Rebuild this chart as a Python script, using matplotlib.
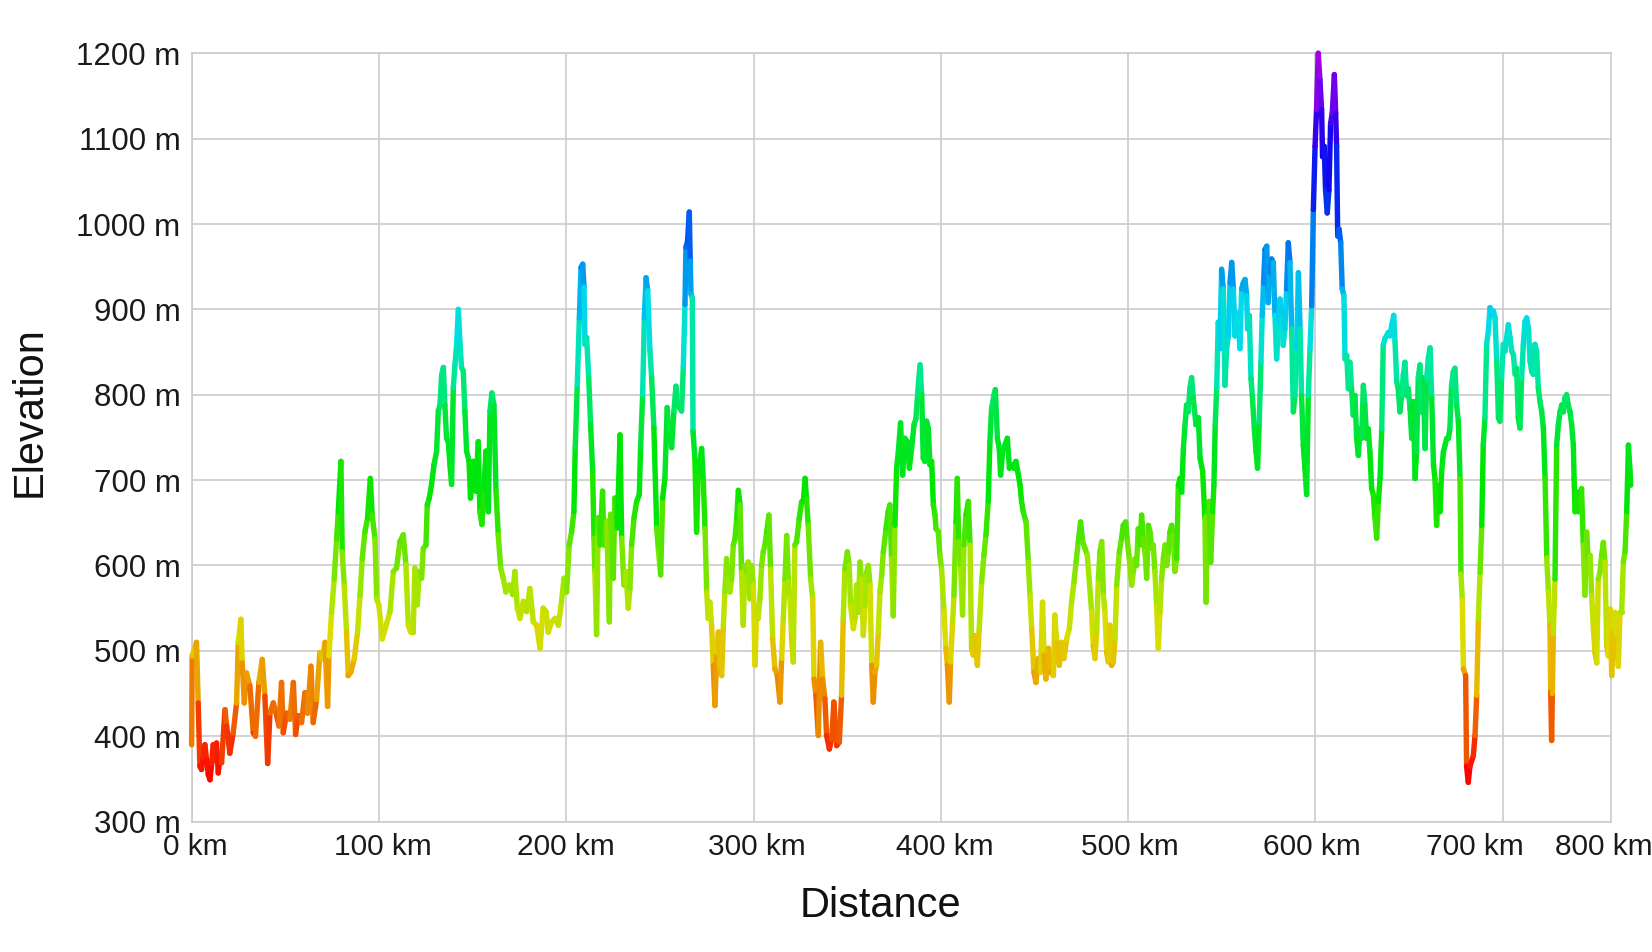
import matplotlib
matplotlib.use("Agg")
import numpy as np
import matplotlib.pyplot as plt
from matplotlib.collections import LineCollection
from matplotlib.colors import LinearSegmentedColormap, Normalize

# Profile: distance (km) and elevation (m)
distance_km = [
    0.0, 0.3, 2.6, 3.5, 4.4, 5.3, 6.2, 7.1, 8.0, 8.9, 9.8, 10.7, 11.5, 12.4, 13.3, 14.2, 15.1, 16.0,
    17.8, 18.7, 20.4, 22.2, 24.0, 24.9, 26.3, 27.0, 28.1, 29.3, 31.1, 32.9, 34.1, 35.9, 37.7, 39.1,
    40.6, 41.8, 43.6, 45.4, 46.6, 48.0, 48.9, 50.7, 52.5, 54.3, 55.5, 56.9, 58.7, 60.5, 61.9, 63.7,
    64.9, 66.7, 68.5, 69.7, 71.2, 72.6, 73.3, 74.7, 76.1, 77.4, 78.3, 79.7, 80.4, 81.5, 82.7, 83.6,
    85.0, 86.8, 88.6, 89.9, 91.1, 92.5, 93.9, 95.4, 96.4, 97.9, 98.8, 100.0, 101.8, 103.2,
    105.9, 107.7, 109.4, 111.2, 113.0, 114.4, 115.7, 116.9, 118.3, 119.2, 120.5, 121.5, 122.8, 123.7,
    125.1, 125.8, 126.9, 128.1, 129.4, 130.8, 131.7, 132.6, 133.5, 134.4, 135.2, 136.1, 137.0, 137.9,
    138.8, 139.7, 140.6, 141.5, 142.4, 143.3, 144.1, 145.0, 145.9, 146.8, 148.1, 148.9, 150.4, 151.8,
    153.0, 153.9, 155.0, 156.1, 157.1, 158.4, 159.3, 160.3, 161.4, 162.5, 163.7, 165.0, 166.4, 167.8,
    169.6, 171.4, 172.6, 173.9, 175.3, 177.1, 178.9, 180.6, 182.4, 184.2, 186.0, 187.7, 189.2, 190.4,
    192.2, 194.0, 195.8, 197.5, 198.8, 200.2, 201.6, 202.9, 204.1, 204.8, 205.9, 207.0, 207.9, 208.8,
    209.5, 210.0, 210.9, 212.0, 213.0, 214.1, 214.8, 215.3, 216.2, 217.1, 218.0, 219.4, 220.1, 221.6,
    223.0, 223.7, 225.1, 226.0, 227.3, 228.7, 229.6, 230.8, 231.9, 233.1, 234.0, 234.9, 236.2, 237.6,
    239.0, 239.7, 240.8, 241.7, 242.6, 243.5, 244.7, 245.6, 246.8, 248.3, 249.3, 250.4, 251.5, 252.7,
    253.9, 255.0, 256.3, 257.5, 258.6, 259.3, 260.4, 261.6, 262.5, 263.4, 263.9, 264.8, 265.7, 266.2,
    266.6, 267.3, 267.7, 268.7, 269.6, 270.5, 271.4, 272.3, 273.2, 274.1, 275.0, 275.8, 276.7, 277.6,
    278.5, 279.4, 280.3, 281.2, 282.1, 283.0, 283.9, 284.7, 285.6, 286.5, 287.4, 288.3, 289.2, 290.1,
    291.0, 291.9, 292.8, 293.6, 294.5, 295.4, 296.3, 297.2, 298.1, 299.0, 299.9, 300.8, 301.7, 302.5,
    303.4, 304.3, 305.2, 306.1, 307.0, 308.2, 309.1, 310.2, 311.4, 312.7, 314.1, 315.0, 315.9, 316.8,
    317.7, 318.6, 319.5, 320.3, 321.2, 322.1, 323.0, 324.4, 325.7, 326.6, 327.5, 328.3, 329.2, 330.5,
    331.6, 332.3, 333.3, 334.6, 335.8, 336.9, 338.1, 339.0, 340.5, 341.7, 342.9, 344.4, 345.8, 347.0,
    347.9, 348.8, 350.1, 351.1, 351.8, 353.3, 354.2, 355.0, 355.9, 356.8, 357.7, 358.6, 359.5, 360.4,
    361.3, 362.2, 363.1, 363.9, 364.8, 365.7, 366.6, 367.5, 368.4, 369.3, 370.7, 371.9, 372.8, 373.7,
    374.6, 375.5, 376.4, 377.3, 378.5, 379.6, 380.8, 382.1, 383.2, 384.4, 385.7, 386.7, 387.6, 388.3,
    388.9, 389.8, 390.6, 391.5, 392.4, 393.3, 394.2, 395.1, 396.0, 396.9, 397.4, 398.6, 399.5, 400.4,
    401.7, 402.7, 403.5, 404.5, 405.2, 406.3, 407.0, 408.1, 408.8, 409.5, 410.6, 411.6, 412.3, 413.4,
    414.7, 415.6, 416.4, 417.3, 418.2, 419.5, 420.5, 421.8, 423.0, 424.1, 425.3, 426.2, 427.1, 428.4,
    429.1, 430.2, 431.2, 431.9, 433.0, 434.2, 435.5, 436.6, 437.8, 439.0, 440.1, 441.4, 442.3, 443.1,
    444.0, 445.5, 446.7, 447.6, 448.5, 449.7, 450.8, 452.0, 453.3, 454.3, 455.1, 456.1, 457.4, 458.6,
    460.1, 460.9, 461.8, 463.2, 464.5, 465.7, 467.2, 468.6, 469.8, 471.1, 472.2, 473.4, 474.6, 475.7,
    477.0, 478.2, 480.5, 481.4, 482.3, 483.2, 484.1, 485.0, 485.9, 486.8, 487.6, 488.5, 489.4, 490.3,
    491.2, 492.1, 493.0, 493.9, 495.3, 496.5, 497.4, 498.7, 499.6, 500.6, 501.9, 502.8, 503.7, 504.5,
    505.4, 506.3, 507.2, 508.1, 509.0, 509.9, 510.8, 511.7, 512.6, 513.4, 514.3, 515.2, 516.1, 517.0,
    517.9, 518.8, 519.7, 520.6, 521.5, 522.3, 523.2, 524.1, 525.0, 525.9, 526.8, 527.7, 528.6, 529.5,
    530.4, 531.2, 532.1, 533.0, 533.9, 534.8, 536.2, 537.5, 538.4, 539.8, 541.0, 541.6, 542.3, 543.3,
    544.1, 545.1, 545.8, 546.5, 547.3, 548.1, 549.0, 549.9, 550.8, 551.7, 552.6, 553.5, 554.4, 555.3,
    556.2, 557.0, 557.9, 558.8, 559.7, 560.6, 561.5, 562.4, 563.3, 563.8, 564.7, 565.6, 566.3, 567.4,
    568.3, 569.1, 570.0, 570.9, 571.6, 572.3, 573.1, 574.0, 574.8, 575.7, 576.6, 577.5, 578.4, 579.3,
    580.2, 581.1, 582.0, 582.8, 583.7, 584.6, 585.5, 586.4, 587.3, 588.2, 589.1, 590.0, 590.9, 591.8,
    592.6, 593.5, 594.4, 595.3, 596.2, 597.1, 598.0, 598.9, 599.8, 600.6, 601.5, 602.4, 603.3, 603.8,
    604.7, 605.4, 606.3, 607.2, 608.1, 609.0, 610.1, 610.8, 611.3, 611.9, 612.6, 613.5, 614.3, 615.2,
    615.8, 616.7, 617.6, 618.4, 619.3, 620.2, 621.1, 622.0, 622.9, 623.8, 624.7, 625.6, 626.4, 627.3,
    628.2, 629.1, 630.0, 630.9, 631.8, 632.7, 633.6, 634.5, 635.4, 636.2, 637.1, 638.0, 638.9, 639.8,
    640.7, 641.8, 642.5, 643.4, 644.2, 645.1, 646.0, 646.9, 647.8, 648.7, 649.6, 650.5, 651.4, 652.3,
    653.2, 654.0, 654.9, 655.8, 656.7, 657.6, 658.5, 659.4, 660.3, 661.2, 662.1, 663.0, 663.8, 664.7,
    665.6, 666.5, 667.4, 668.3, 669.2, 670.1, 671.0, 671.8, 672.7, 673.6, 674.5, 675.4, 676.3, 677.2,
    677.7, 678.4, 679.0, 680.2, 680.7, 681.6, 682.5, 684.3, 685.2, 686.1, 687.0, 687.9, 688.8, 689.6,
    690.5, 691.4, 692.3, 693.2, 694.1, 695.0, 695.9, 696.8, 697.7, 698.5, 699.4, 700.3, 701.2, 702.1,
    703.0, 703.9, 704.8, 705.7, 706.6, 707.4, 708.3, 709.2, 710.1, 711.0, 711.9, 712.8, 713.7, 714.6,
    715.5, 716.3, 717.2, 718.1, 719.0, 719.9, 720.8, 721.7, 722.6, 723.5, 724.4, 725.2, 725.6, 726.1,
    726.5, 727.0, 727.9, 728.8, 729.7, 730.6, 731.5, 732.4, 733.2, 734.1, 735.0, 735.9, 736.8, 737.7,
    738.1, 738.6, 739.5, 740.4, 741.3, 742.1, 743.0, 743.9, 744.8, 745.7, 746.6, 747.5, 748.4, 749.3,
    750.2, 751.0, 751.9, 752.8, 753.7, 754.6, 755.5, 756.4, 757.3, 758.2, 759.1, 760.0, 760.8, 761.7,
    762.6, 763.5, 764.4, 765.3, 766.2, 767.1, 768.0, 768.3,
]

elevation_m = [
    390, 494, 510, 439, 365, 361, 375, 390, 372, 355, 349, 368, 390, 372, 392, 357, 375, 369,
    431, 412, 380, 404, 439, 510, 537, 486, 439, 474, 459, 404, 400, 463, 490, 447,
    368, 427, 439, 424, 412, 463, 404, 427, 420, 463, 402, 424, 416, 451, 427, 482,
    416, 443, 498, 490, 510, 435, 494, 545, 584, 631, 663, 722, 616, 576, 522, 471,
    475, 490, 522, 565, 608, 639, 655, 702, 659, 631, 561, 553, 514, 525,
    546, 593, 597, 628, 636, 601, 530, 522, 522, 597, 554, 593, 585, 620,
    624, 671, 679, 695, 718, 734, 781, 788, 824, 832, 788, 749, 745, 718,
    695, 808, 835, 859, 900, 859, 832, 828, 781, 734, 722, 679, 722, 687,
    745, 663, 648, 691, 734, 663, 781, 802, 788, 687, 636, 597, 585, 569,
    577, 566, 593, 550, 538, 558, 546, 573, 534, 530, 503, 550, 546, 522,
    534, 538, 530, 558, 585, 569, 624, 640, 663, 738, 812, 890, 949, 953,
    926, 859, 867, 820, 765, 710, 632, 593, 519, 656, 624, 687, 624, 652,
    534, 660, 585, 679, 644, 753, 632, 577, 593, 550, 573, 624, 656, 675,
    683, 738, 800, 890, 937, 922, 851, 820, 761, 644, 616, 589, 679, 703,
    785, 753, 738, 781, 810, 790, 785, 781, 832, 906, 973, 980, 1014, 957,
    918, 914, 757, 725, 639, 710, 722, 737, 698, 643, 569, 538, 557, 530,
    483, 436, 498, 522, 475, 471, 530, 569, 608, 584, 569, 584, 624, 631,
    655, 688, 671, 592, 530, 600, 592, 604, 561, 600, 577, 483, 553, 538,
    561, 600, 616, 624, 639, 659, 596, 514, 479, 471, 440, 491, 538, 584,
    635, 581, 561, 518, 487, 624, 628, 655, 675, 675, 702, 678, 647, 584,
    561, 467, 448, 401, 510, 467, 444, 401, 385, 397, 440, 389, 393, 448,
    538, 596, 616, 600, 553, 526, 538, 577, 545, 604, 584, 518, 553, 592,
    600, 577, 483, 440, 475, 483, 522, 569, 588, 616, 643, 663, 671, 608,
    541, 647, 714, 733, 767, 706, 749, 745, 714, 737, 765, 772, 800, 820,
    835, 800, 726, 722, 769, 761, 718, 722, 671, 659, 643, 640, 612, 596,
    546, 503, 483, 440, 487, 534, 565, 651, 702, 628, 596, 542, 624, 659,
    675, 624, 503, 495, 518, 483, 526, 581, 612, 636, 675, 745, 784, 800,
    806, 749, 737, 706, 733, 741, 749, 714, 718, 714, 722, 706, 694, 675,
    663, 651, 604, 565, 526, 475, 463, 491, 475, 557, 495, 467, 503, 475,
    471, 542, 510, 483, 510, 491, 514, 526, 557, 581, 604, 628, 651, 628,
    620, 612, 546, 506, 491, 522, 585, 616, 628, 565, 546, 499, 487, 530,
    483, 487, 514, 577, 616, 632, 647, 651, 628, 608, 577, 593, 608, 600,
    643, 624, 659, 632, 616, 585, 647, 639, 620, 624, 593, 553, 503, 546,
    585, 608, 624, 600, 616, 639, 647, 636, 593, 608, 694, 702, 686, 737,
    765, 788, 780, 808, 820, 796, 765, 773, 726, 710, 655, 557, 663, 675,
    604, 663, 694, 765, 808, 885, 854, 947, 924, 811, 854, 869, 931, 955,
    924, 869, 896, 889, 854, 924, 931, 935, 916, 877, 893, 819, 799, 760,
    733, 714, 768, 838, 893, 931, 970, 974, 908, 943, 959, 955, 893, 842,
    885, 912, 889, 858, 877, 924, 978, 955, 877, 780, 799, 854, 943, 877,
    799, 741, 714, 683, 799, 854, 904, 1017, 1091, 1134, 1200, 1169, 1134, 1079,
    1091, 1040, 1013, 1040, 1118, 1130, 1175, 1130, 1091, 986, 994, 978, 924, 916,
    842, 846, 807, 838, 807, 776, 799, 749, 729, 760, 749, 811, 788, 749,
    760, 733, 690, 683, 655, 632, 675, 702, 760, 858, 866, 869, 873, 869,
    881, 893, 862, 815, 807, 780, 799, 823, 838, 799, 807, 784, 749, 792,
    702, 733, 820, 835, 780, 820, 737, 820, 843, 855, 796, 718, 702, 647,
    694, 663, 710, 733, 741, 749, 749, 761, 812, 827, 831, 788, 769, 702,
    590, 560, 479, 471, 365, 346, 365, 377, 401, 448, 537, 592, 647, 741,
    773, 859, 874, 902, 894, 898, 890, 839, 773, 769, 820, 859, 851, 867,
    882, 867, 851, 847, 824, 831, 773, 761, 820, 859, 886, 890, 878, 839,
    827, 824, 859, 851, 808, 792, 780, 761, 702, 609, 569, 530, 452, 395,
    450, 520, 584, 741, 765, 780, 788, 780, 796, 800, 788, 780, 765, 741,
    702, 663, 686, 663, 686, 690, 624, 565, 639, 604, 612, 565, 526, 498,
    486, 584, 592, 612, 627, 604, 506, 494, 549, 471, 526, 545, 514, 482,
    545, 545, 604, 616, 663, 741, 710, 694,
]

y_ticks = [300, 400, 500, 600, 700, 800, 900, 1000, 1100, 1200]
y_tick_labels = ["300 m", "400 m", "500 m", "600 m", "700 m", "800 m",
                 "900 m", "1000 m", "1100 m", "1200 m"]
x_grid = [0, 100, 200, 300, 400, 500, 600, 700]
x_end = 758
# where the distance labels sit in the reference (the last two drift left of their lines)
x_label_pos = [2, 102, 200, 302, 402, 501, 598, 685, 754]
x_tick_labels = ["0 km", "100 km", "200 km", "300 km", "400 km", "500 km",
                 "600 km", "700 km", "800 km"]

# elevation -> colour stops (red low ... purple high)
color_levels = [350, 400, 440, 480, 520, 570, 630, 690, 770, 830, 890, 950, 1010, 1090, 1200]
color_list = ["#ff0000", "#f23c00", "#ee7a00", "#ebae00", "#dcdc00", "#a8e600", "#5ae600",
              "#00e600", "#00e63a", "#00e8a0", "#00dcec", "#008cf0", "#0040f0", "#1400f0", "#b400e6"]

lo, hi = color_levels[0], color_levels[-1]
cmap = LinearSegmentedColormap.from_list(
    "elev", [((v - lo) / (hi - lo), c) for v, c in zip(color_levels, color_list)])
norm = Normalize(lo, hi)

x = np.array(distance_km)
y = np.array(elevation_m, dtype=float)

fig = plt.figure(figsize=(16.52, 9.52), dpi=100)
ax = fig.add_axes([0.116, 0.137, 0.8594, 0.807])

pts = np.column_stack([x, y])
segs = np.stack([pts[:-1], pts[1:]], axis=1)
mid = (y[:-1] + y[1:]) / 2
lc = LineCollection(segs, colors=cmap(norm(mid)), linewidths=3.9,
                    capstyle="round", joinstyle="round", clip_on=False, zorder=3)
ax.add_collection(lc)

ax.set_xlim(0, x_end)
ax.set_ylim(300, 1200)

grid_col = "#cccccc"
ax.set_yticks(y_ticks)
ax.set_yticklabels(y_tick_labels, family=["Liberation Sans", "DejaVu Sans"],
                   fontsize=22.5, color="#1a1a1a")
ax.set_xticks(x_label_pos)
ax.set_xticklabels(x_tick_labels, family=["Liberation Sans", "DejaVu Sans"],
                   fontsize=21.5, color="#1a1a1a")
ax.tick_params(axis="both", length=0)
ax.tick_params(axis="y", pad=8)
ax.tick_params(axis="x", pad=8)

for v in y_ticks:
    ax.axhline(v, color=grid_col, lw=1.2, zorder=1)
for v in x_grid:
    ax.axvline(v, color=grid_col, lw=1.2, zorder=1)
for s in ax.spines.values():
    s.set_color(grid_col)
    s.set_linewidth(1.2)

ax.set_xlabel("Distance", family=["Liberation Sans", "DejaVu Sans"],
              fontsize=30, color="#111111")
ax.set_ylabel("Elevation", family=["Liberation Sans", "DejaVu Sans"],
              fontsize=30, color="#111111")
ax.xaxis.label.set_verticalalignment("center")
ax.yaxis.label.set_verticalalignment("center")
ax.xaxis.set_label_coords(0.485, -0.11)
ax.yaxis.set_label_coords(-0.114, 0.534)

fig.savefig("out.png", dpi=100, facecolor="white")
